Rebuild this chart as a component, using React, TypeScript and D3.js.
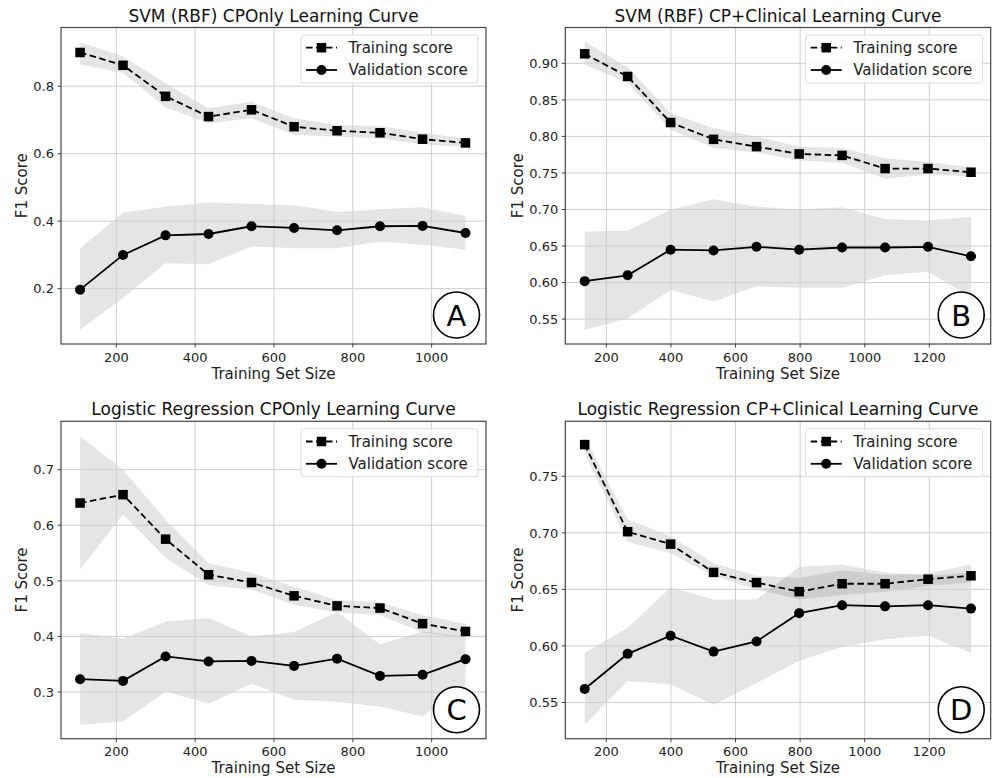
import React from "react";
import * as d3 from "d3";

const sizesCP = [108, 217, 325, 434, 543, 651, 760, 869, 977, 1086];
const sizesClin = [133, 266, 399, 532, 665, 797, 930, 1063, 1196, 1329];

// A: SVM CPOnly
const aTrain = [0.900, 0.862, 0.770, 0.710, 0.730, 0.680, 0.668, 0.662, 0.643, 0.632];
const aTrainHi = [0.930, 0.888, 0.809, 0.735, 0.754, 0.705, 0.685, 0.682, 0.662, 0.645];
const aTrainLo = [0.864, 0.840, 0.737, 0.690, 0.705, 0.656, 0.650, 0.645, 0.628, 0.620];
const aVal = [0.197, 0.300, 0.358, 0.362, 0.385, 0.380, 0.373, 0.385, 0.386, 0.365];
const aValHi = [0.320, 0.426, 0.443, 0.456, 0.451, 0.447, 0.428, 0.435, 0.441, 0.415];
const aValLo = [0.078, 0.172, 0.275, 0.272, 0.325, 0.320, 0.320, 0.339, 0.330, 0.315];

// B: SVM CP+Clinical
const bTrain = [0.913, 0.882, 0.819, 0.796, 0.786, 0.776, 0.774, 0.756, 0.756, 0.751];
const bTrainHi = [0.930, 0.895, 0.832, 0.811, 0.800, 0.786, 0.784, 0.770, 0.765, 0.758];
const bTrainLo = [0.898, 0.873, 0.809, 0.784, 0.778, 0.767, 0.764, 0.742, 0.748, 0.745];
const bVal = [0.602, 0.610, 0.645, 0.644, 0.649, 0.645, 0.648, 0.648, 0.649, 0.636];
const bValHi = [0.670, 0.671, 0.700, 0.714, 0.704, 0.700, 0.703, 0.687, 0.685, 0.690];
const bValLo = [0.535, 0.551, 0.590, 0.574, 0.595, 0.593, 0.593, 0.610, 0.615, 0.580];

// C: Logistic CPOnly
const cTrain = [0.640, 0.655, 0.575, 0.511, 0.497, 0.473, 0.455, 0.451, 0.423, 0.409];
const cTrainHi = [0.760, 0.700, 0.610, 0.532, 0.514, 0.490, 0.465, 0.462, 0.438, 0.423];
const cTrainLo = [0.520, 0.620, 0.541, 0.492, 0.484, 0.457, 0.443, 0.438, 0.407, 0.397];
const cVal = [0.323, 0.320, 0.364, 0.355, 0.356, 0.347, 0.360, 0.329, 0.331, 0.359];
const cValHi = [0.406, 0.396, 0.427, 0.433, 0.400, 0.408, 0.444, 0.386, 0.409, 0.400];
const cValLo = [0.241, 0.247, 0.301, 0.279, 0.315, 0.286, 0.282, 0.274, 0.256, 0.314];

// D: Logistic CP+Clinical
const dTrain = [0.778, 0.701, 0.690, 0.665, 0.656, 0.648, 0.655, 0.655, 0.659, 0.662];
const dTrainHi = [0.785, 0.712, 0.697, 0.673, 0.662, 0.660, 0.667, 0.663, 0.664, 0.672];
const dTrainLo = [0.770, 0.692, 0.682, 0.662, 0.650, 0.641, 0.645, 0.648, 0.653, 0.656];
const dVal = [0.562, 0.593, 0.609, 0.595, 0.604, 0.629, 0.636, 0.635, 0.636, 0.633];
const dValHi = [0.594, 0.616, 0.652, 0.641, 0.641, 0.670, 0.672, 0.665, 0.662, 0.665];
const dValLo = [0.530, 0.569, 0.566, 0.548, 0.567, 0.587, 0.599, 0.606, 0.609, 0.594];

const xTicksCP = [200, 400, 600, 800, 1000];
const xTicksClin = [200, 400, 600, 800, 1000, 1200];
const yTicksA = [0.2, 0.4, 0.6, 0.8];
const yTicksB = [0.55, 0.6, 0.65, 0.7, 0.75, 0.8, 0.85, 0.9];
const yTicksC = [0.3, 0.4, 0.5, 0.6, 0.7];
const yTicksD = [0.55, 0.6, 0.65, 0.7, 0.75];

const titles = [
  "SVM (RBF) CPOnly Learning Curve",
  "SVM (RBF) CP+Clinical Learning Curve",
  "Logistic Regression CPOnly Learning Curve",
  "Logistic Regression CP+Clinical Learning Curve",
];
const letters = ["A", "B", "C", "D"];
const legendLabels = ["Training score", "Validation score"];
const xLabel = "Training Set Size";
const yLabel = "F1 Score";

const FONT = "DejaVu Sans, sans-serif";

type PanelProps = {
  title: string;
  letter: string;
  left: number;
  top: number;
  right: number;
  bottom: number;
  xDomain: [number, number];
  yDomain: [number, number];
  xTicks: number[];
  yTicks: number[];
  yFmt: string;
  yLabelOffset: number;
  sizes: number[];
  train: number[];
  trainHi: number[];
  trainLo: number[];
  val: number[];
  valHi: number[];
  valLo: number[];
};

function Panel(p: PanelProps) {
  const x = d3.scaleLinear().domain(p.xDomain).range([p.left, p.right]);
  const y = d3.scaleLinear().domain(p.yDomain).range([p.bottom, p.top]);
  const fmt = d3.format(p.yFmt);
  const idx = p.sizes.map((_, i) => i);
  const area = (hi: number[], lo: number[]) =>
    d3
      .area<number>()
      .x((i) => x(p.sizes[i]))
      .y0((i) => y(lo[i]))
      .y1((i) => y(hi[i]))(idx) || "";
  const line = (v: number[]) =>
    d3
      .line<number>()
      .x((i) => x(p.sizes[i]))
      .y((i) => y(v[i]))(idx) || "";
  const cx = (p.left + p.right) / 2;
  const cy = (p.top + p.bottom) / 2;
  const lgW = 177;
  const lgH = 48;
  const lgX = p.right - 8 - lgW;
  const lgY = p.top + 7.5;
  const ms = 9.5;
  return (
    <g>
      <clipPath id={"clip" + p.letter}>
        <rect x={p.left} y={p.top} width={p.right - p.left} height={p.bottom - p.top} />
      </clipPath>
      <g clipPath={`url(#clip${p.letter})`}>
        <path d={area(p.trainHi, p.trainLo)} fill="#000" fillOpacity={0.1} />
        <path d={area(p.valHi, p.valLo)} fill="#000" fillOpacity={0.1} />
      </g>
      {p.xTicks.map((t) => (
        <line key={"gx" + t} x1={x(t)} x2={x(t)} y1={p.top} y2={p.bottom} stroke="#cfcfcf" strokeWidth={1} />
      ))}
      {p.yTicks.map((t) => (
        <line key={"gy" + t} x1={p.left} x2={p.right} y1={y(t)} y2={y(t)} stroke="#cfcfcf" strokeWidth={1} />
      ))}
      <path d={line(p.train)} fill="none" stroke="#000" strokeWidth={1.8} strokeDasharray="6.5,3.5" />
      <path d={line(p.val)} fill="none" stroke="#000" strokeWidth={1.8} />
      {idx.map((i) => (
        <rect key={"s" + i} x={x(p.sizes[i]) - ms / 2} y={y(p.train[i]) - ms / 2} width={ms} height={ms} fill="#000" />
      ))}
      {idx.map((i) => (
        <circle key={"c" + i} cx={x(p.sizes[i])} cy={y(p.val[i])} r={5} fill="#000" />
      ))}
      <rect x={p.left} y={p.top} width={p.right - p.left} height={p.bottom - p.top} fill="none" stroke="#444" strokeWidth={1.2} />
      {p.xTicks.map((t) => (
        <g key={"xt" + t}>
          <line x1={x(t)} x2={x(t)} y1={p.bottom} y2={p.bottom + 3.5} stroke="#444" strokeWidth={1} />
          <text x={x(t)} y={p.bottom + 17.5} textAnchor="middle" fontSize={13} fontFamily={FONT} fill="#222">
            {t}
          </text>
        </g>
      ))}
      {p.yTicks.map((t) => (
        <g key={"yt" + t}>
          <line x1={p.left - 3.5} x2={p.left} y1={y(t)} y2={y(t)} stroke="#444" strokeWidth={1} />
          <text x={p.left - 7} y={y(t) + 4.7} textAnchor="end" fontSize={13} fontFamily={FONT} fill="#222">
            {fmt(t)}
          </text>
        </g>
      ))}
      <text x={cx} y={p.bottom + 34.5} textAnchor="middle" fontSize={15} fontFamily={FONT} fill="#222">
        {xLabel}
      </text>
      <text
        transform={`translate(${p.left - p.yLabelOffset},${cy}) rotate(-90)`}
        textAnchor="middle"
        fontSize={15}
        fontFamily={FONT}
        fill="#222"
      >
        {yLabel}
      </text>
      <text x={cx} y={p.top - 6} textAnchor="middle" fontSize={17} fontFamily={FONT} fill="#111">
        {p.title}
      </text>
      <rect x={lgX} y={lgY} width={lgW} height={lgH} rx={3} fill="#fff" fillOpacity={0.85} stroke="#dcdcdc" strokeWidth={1} />
      <line x1={lgX + 5} x2={lgX + 36} y1={lgY + 12.7} y2={lgY + 12.7} stroke="#000" strokeWidth={1.8} strokeDasharray="6.5,3.5" />
      <rect x={lgX + 20.5 - ms / 2} y={lgY + 12.7 - ms / 2} width={ms} height={ms} fill="#000" />
      <text x={lgX + 47.5} y={lgY + 18} fontSize={15} fontFamily={FONT} fill="#222">
        {legendLabels[0]}
      </text>
      <line x1={lgX + 5} x2={lgX + 36} y1={lgY + 35} y2={lgY + 35} stroke="#000" strokeWidth={1.8} />
      <circle cx={lgX + 20.5} cy={lgY + 35} r={5} fill="#000" />
      <text x={lgX + 47.5} y={lgY + 40.3} fontSize={15} fontFamily={FONT} fill="#222">
        {legendLabels[1]}
      </text>
      <circle cx={p.right - 29.5} cy={p.bottom - 29} r={23} fill="#fff" stroke="#000" strokeWidth={1.6} />
      <text x={p.right - 29.5} y={p.bottom - 29 + 10.5} textAnchor="middle" fontSize={29} fontFamily={FONT} fill="#000">
        {p.letter}
      </text>
    </g>
  );
}

export default function App() {
  const colL: [number, number] = [61, 486];
  const colR: [number, number] = [565.3, 990.7];
  const rowT: [number, number] = [27.5, 344];
  const rowB: [number, number] = [421.3, 738.7];
  const xDomCP: [number, number] = [59.6, 1138];
  const xDomClin: [number, number] = [73, 1390];
  return (
    <svg width={998} height={778} style={{ position: "absolute", left: 0, top: 0, background: "#fff" }}>
      <rect width={998} height={778} fill="#fff" />
      <Panel
        title={titles[0]} letter={letters[0]}
        left={colL[0]} right={colL[1]} top={rowT[0]} bottom={rowT[1]}
        xDomain={xDomCP} yDomain={[0.036, 0.974]} xTicks={xTicksCP} yTicks={yTicksA} yFmt=".1f" yLabelOffset={34}
        sizes={sizesCP} train={aTrain} trainHi={aTrainHi} trainLo={aTrainLo} val={aVal} valHi={aValHi} valLo={aValLo}
      />
      <Panel
        title={titles[1]} letter={letters[1]}
        left={colR[0]} right={colR[1]} top={rowT[0]} bottom={rowT[1]}
        xDomain={xDomClin} yDomain={[0.516, 0.949]} xTicks={xTicksClin} yTicks={yTicksB} yFmt=".2f" yLabelOffset={42.5}
        sizes={sizesClin} train={bTrain} trainHi={bTrainHi} trainLo={bTrainLo} val={bVal} valHi={bValHi} valLo={bValLo}
      />
      <Panel
        title={titles[2]} letter={letters[2]}
        left={colL[0]} right={colL[1]} top={rowB[0]} bottom={rowB[1]}
        xDomain={xDomCP} yDomain={[0.216, 0.787]} xTicks={xTicksCP} yTicks={yTicksC} yFmt=".1f" yLabelOffset={34}
        sizes={sizesCP} train={cTrain} trainHi={cTrainHi} trainLo={cTrainLo} val={cVal} valHi={cValHi} valLo={cValLo}
      />
      <Panel
        title={titles[3]} letter={letters[3]}
        left={colR[0]} right={colR[1]} top={rowB[0]} bottom={rowB[1]}
        xDomain={xDomClin} yDomain={[0.518, 0.7986]} xTicks={xTicksClin} yTicks={yTicksD} yFmt=".2f" yLabelOffset={42.5}
        sizes={sizesClin} train={dTrain} trainHi={dTrainHi} trainLo={dTrainLo} val={dVal} valHi={dValHi} valLo={dValLo}
      />
    </svg>
  );
}
